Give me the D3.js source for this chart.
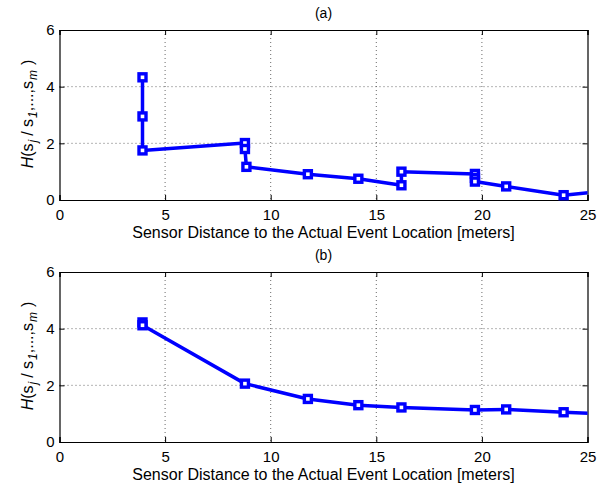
<!DOCTYPE html>
<html>
<head>
<meta charset="utf-8">
<script src="https://cdn.jsdelivr.net/npm/d3@7"></script>
<style>
  body { margin: 0; background: #fff; }
  svg { font-family: "Liberation Sans", Arial, sans-serif; }
</style>
</head>
<body>
<svg id="chart" width="613" height="491"></svg>
<script>
// panel (a) data: distance [m], entropy
const distA = [3.93, 3.93, 3.93, 8.78, 8.78, 8.85, 11.76, 14.15, 16.19, 16.19, 19.67, 19.67, 19.67, 21.15, 23.87, 26.5];
const entA  = [4.33, 2.95, 1.75, 2.01, 1.80, 1.17, 0.91, 0.75, 0.52, 1.00, 0.92, 0.78, 0.65, 0.48, 0.17, 0.36];
// panel (b)
const distB = [3.93, 3.93, 8.78, 11.76, 14.15, 16.19, 19.67, 21.15, 23.87, 26.5];
const entB  = [4.22, 4.12, 2.06, 1.52, 1.30, 1.22, 1.13, 1.15, 1.05, 0.97];

const xTicks = [0, 5, 10, 15, 20, 25];
const yTicks = [0, 2, 4, 6];
const titles = ["(a)", "(b)"];
const xLabel = "Sensor Distance to the Actual Event Location [meters]";

const svg = d3.select("#chart");

const panels = [
  {top: 30, bottom: 200, dx: distA, dy: entA, title: titles[0]},
  {top: 272, bottom: 442, dx: distB, dy: entB, title: titles[1]}
];

const left = 59.5, right = 587.5;

panels.forEach(function(p, idx) {
  const x = d3.scaleLinear().domain([0, 25]).range([left, right]);
  const y = d3.scaleLinear().domain([0, 6]).range([p.bottom, p.top]);
  const g = svg.append("g");

  // grid
  g.selectAll(".gx").data(xTicks.slice(1, -1)).enter().append("line")
    .attr("x1", d => x(d)).attr("x2", d => x(d))
    .attr("y1", p.top).attr("y2", p.bottom)
    .attr("stroke", "#444").attr("stroke-width", 0.8).attr("stroke-dasharray", "1,3");
  g.selectAll(".gy").data(yTicks.slice(1, -1)).enter().append("line")
    .attr("x1", left).attr("x2", right)
    .attr("y1", d => y(d)).attr("y2", d => y(d))
    .attr("stroke", "#444").attr("stroke-width", 0.8).attr("stroke-dasharray", "1,3");

  // axes
  g.append("g").attr("transform", "translate(0," + p.bottom + ")")
    .call(d3.axisBottom(x).tickValues(xTicks).tickFormat(d3.format("d")).tickSize(-5).tickPadding(9));
  g.append("g").attr("transform", "translate(" + left + ",0)")
    .call(d3.axisLeft(y).tickValues(yTicks).tickFormat(d3.format("d")).tickSize(-5).tickPadding(5));
  g.append("g").attr("transform", "translate(0," + p.top + ")")
    .call(d3.axisTop(x).tickValues(xTicks).tickSize(-5).tickFormat(""));
  g.append("g").attr("transform", "translate(" + right + ",0)")
    .call(d3.axisRight(y).tickValues(yTicks).tickSize(-5).tickFormat(""));
  g.selectAll(".domain").attr("stroke", "#000").attr("stroke-width", 1.2);
  g.selectAll(".tick line").attr("stroke", "#000");
  g.selectAll(".tick text")
    .style("font-size", "15px").style("fill", "#000")
    .style("font-family", "Liberation Sans, Arial, sans-serif");

  // clip
  const clipId = "clip" + idx;
  svg.append("clipPath").attr("id", clipId).append("rect")
    .attr("x", left).attr("y", p.top - 8).attr("width", right - left).attr("height", p.bottom - p.top + 16);

  const pts = p.dx.map((d, i) => [d, p.dy[i]]);
  const line = d3.line().x(d => x(d[0])).y(d => y(d[1]));
  const plot = g.append("g").attr("clip-path", "url(#" + clipId + ")");
  plot.append("path").datum(pts)
    .attr("d", line).attr("fill", "none")
    .attr("stroke", "#0000ff").attr("stroke-width", 3.5).attr("stroke-linejoin", "round");
  plot.selectAll("rect.m").data(pts.filter(d => d[0] <= 25)).enter().append("rect")
    .attr("x", d => x(d[0]) - 3.5).attr("y", d => y(d[1]) - 3.5)
    .attr("width", 7).attr("height", 7)
    .attr("fill", "#fff").attr("stroke", "#0000ff").attr("stroke-width", 3.4);

  // titles and labels
  svg.append("text").attr("x", (left + right) / 2).attr("y", p.top - 12)
    .attr("text-anchor", "middle").style("font-size", "14px").text(p.title);
  svg.append("text").attr("x", (left + right) / 2).attr("y", p.bottom + 37.5)
    .attr("text-anchor", "middle").style("font-size", "16px").text(xLabel);

  const yl = svg.append("text")
    .attr("transform", "translate(33," + ((p.top + p.bottom) / 2 - 1) + ") rotate(-90)")
    .attr("text-anchor", "middle").style("font-size", "16px");
  yl.append("tspan").attr("font-style", "italic").text("H");
  yl.append("tspan").text("(s");
  yl.append("tspan").style("font-size", "12px").attr("font-style", "italic").attr("dy", 4).attr("dx", 1).text("j");
  yl.append("tspan").attr("dy", -4).attr("dx", 4).text("/ s");
  yl.append("tspan").style("font-size", "12px").attr("font-style", "italic").attr("dy", 4).attr("dx", 1).text("1");
  yl.append("tspan").attr("dy", -4).text(",...,s");
  yl.append("tspan").style("font-size", "12px").attr("font-style", "italic").attr("dy", 4).attr("dx", 1).text("m");
  yl.append("tspan").attr("dy", -4).attr("dx", 5).text(")");
});
</script>
</body>
</html>
